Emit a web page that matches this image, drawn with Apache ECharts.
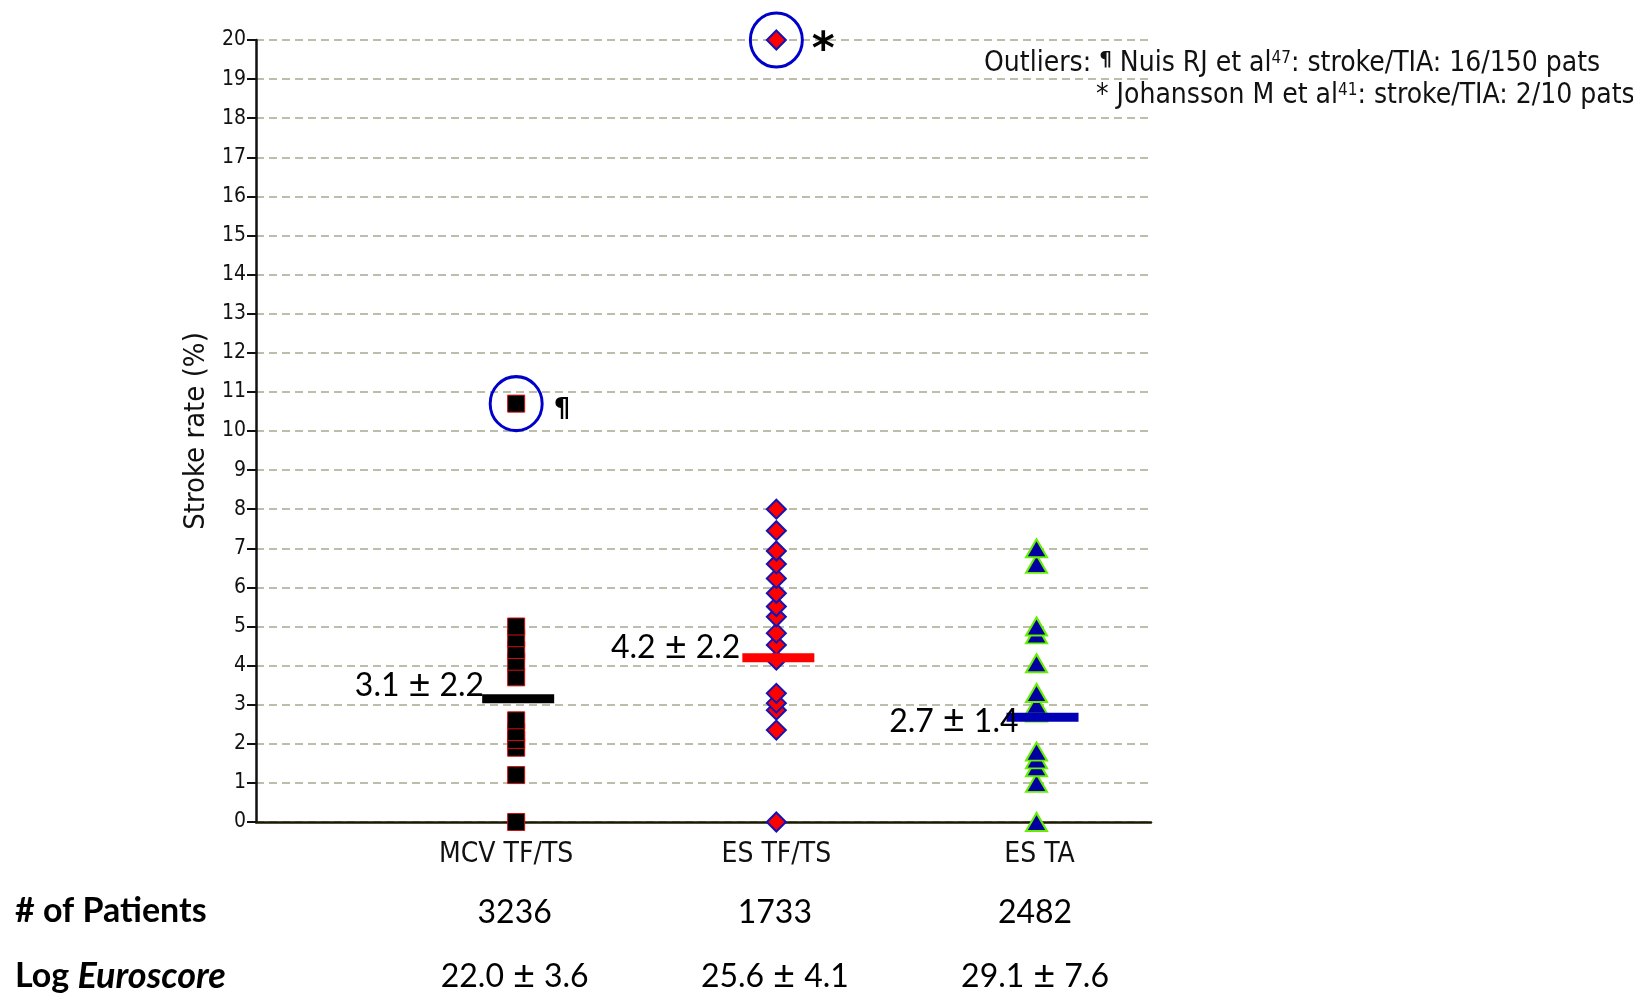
<!DOCTYPE html>
<html><head><meta charset="utf-8">
<script src="https://cdn.jsdelivr.net/npm/echarts@6/dist/echarts.min.js"></script>
<style>html,body{margin:0;padding:0;background:#fff}#c{width:1633px;height:995px}</style>
</head><body><div id="c"></div>
<script>
const categories = ['MCV TF/TS', 'ES TF/TS', 'ES TA'];
const mcvValues = [0, 1.2, 1.9, 2.1, 2.3, 2.6, 3.7, 4.1, 4.4, 4.7, 5.0, 10.7];
const esTfValues = [0, 2.35, 2.86, 3.04, 3.29, 4.14, 4.53, 4.83, 5.25, 5.51, 5.85, 6.23, 6.6, 6.93, 7.45, 8.0, 20];
const esTaValues = [0, 1.0, 1.4, 1.6, 1.8, 2.8, 3.0, 3.3, 4.06, 4.8, 5.0, 6.6, 7.0];
const meanValues = [3.15, 4.2, 2.68];
const meanLabels = ['3.1±2.2', '4.2±2.2', '2.7±1.4'];
const outlierPoints = [[1, 10.7], [2, 20]];
const outlierMarks = ['¶', '*'];
const patients = ['3236', '1733', '2482'];
const euroscore = ['22.0±3.6', '25.6±4.1', '29.1±7.6'];
const outlierNotes = ['Outliers: {pil|¶} Nuis RJ et al{sup|47}: stroke/TIA: 16/150 pats', '* Johansson M et al{sup|41}: stroke/TIA: 2/10 pats'];

const NARROW = '"Liberation Sans Narrow", "DejaVu Sans Condensed", "Arial Narrow", sans-serif';
const CAL = 'Lato, "Open Sans", sans-serif';

const meanColors = ['#000000', '#ff0000', '#0000b4'];
const meanLabelOffsets = [[2, -13], [-2, -10], [12, 4]];
const meanSymbolOffsets = [[2, 0], [2, 0], [6, 0]];
const catLabelPad = [[0, 20, 0, 0], [0, 0, 0, 0], [0, 0, 0, 6]];

const pmRich = { pm: { width: 40, align: 'center', fontSize: 38, fontFamily: CAL, color: '#000' } };

const chart = echarts.init(document.getElementById('c'));
chart.setOption({
  animation: false,
  backgroundColor: '#fff',
  grid: { left: 256, right: 482, top: 40, bottom: 173, containLabel: false },
  xAxis: {
    type: 'value', min: 0, max: 3.44, interval: 1,
    axisLine: { show: true, onZero: false, lineStyle: { color: '#1a1a00', width: 2.5 } },
    axisTick: { show: false }, splitLine: { show: false },
    axisLabel: { margin: 19, fontSize: 28, fontFamily: NARROW, color: '#111',
      formatter: v => (Number.isInteger(v) && categories[v - 1]) ? '{c' + (v - 1) + '|' + categories[v - 1] + '}' : '',
      rich: Object.fromEntries(catLabelPad.map((p, i) => ['c' + i, { padding: p, fontSize: 28, fontFamily: NARROW, color: '#111' }])) }
  },
  yAxis: {
    type: 'value', min: 0, max: 20, interval: 1,
    name: 'Stroke rate (%)', nameLocation: 'middle', nameGap: 38,
    nameTextStyle: { fontFamily: NARROW, fontSize: 29, color: '#111' },
    axisLine: { show: true, lineStyle: { color: '#111', width: 2.5 } },
    axisTick: { show: true, length: 9, lineStyle: { color: '#111', width: 2 } },
    axisLabel: { margin: 10, fontSize: 21, fontFamily: NARROW, color: '#111' },
    splitLine: { show: true, lineStyle: { type: [8, 5], color: '#a8a890', width: 1.5 } }
  },
  series: [
    { type: 'scatter', clip: false, symbol: 'rect', symbolSize: 17, z: 3,
      itemStyle: { color: '#000', borderColor: '#d01010', borderWidth: 1, opacity: 1 },
      data: mcvValues.map(v => [1, v]) },
    { type: 'scatter', clip: false, symbol: 'diamond', symbolSize: 19, z: 3,
      itemStyle: { color: '#ff0000', borderColor: '#1414b4', borderWidth: 2, opacity: 1 },
      data: esTfValues.map(v => [2, v]) },
    { type: 'scatter', clip: false, symbol: 'triangle', symbolSize: [21, 18], z: 3,
      itemStyle: { color: '#0000a0', borderColor: '#66ee00', borderWidth: 2, opacity: 1 },
      data: esTaValues.map(v => [3, v]) },
    { type: 'scatter', clip: false, symbol: 'rect', symbolSize: [72, 9], z: 5,
      data: meanValues.map((v, i) => ({
        value: [i + 1, v], symbolOffset: meanSymbolOffsets[i],
        itemStyle: { color: meanColors[i], opacity: 1 },
        label: { show: true, position: 'left', distance: 0, offset: meanLabelOffsets[i],
          formatter: meanLabels[i].replace('±', '{pm|±}'),
          fontSize: 32, fontFamily: CAL, color: '#000', rich: pmRich }
      })) },
    { type: 'scatter', clip: false, symbol: 'circle', symbolSize: [52, 54], z: 4,
      itemStyle: { color: 'rgba(0,0,0,0)', borderColor: '#0000cc', borderWidth: 3, opacity: 1 },
      data: outlierPoints.map((p, i) => ({
        value: p,
        label: { show: true, position: 'right', distance: i === 0 ? 10 : 8, offset: i === 0 ? [0, 7] : [0, 12],
          formatter: outlierMarks[i], fontSize: i === 0 ? 26 : 44, fontWeight: 'bold',
          fontFamily: '"DejaVu Sans", sans-serif', color: '#000' }
      })) }
  ]
});

const g = [];
outlierNotes.forEach((t, i) => {
  g.push({ type: 'text', left: i === 0 ? 984 : 1096, top: i === 0 ? 50 : 82,
    style: { text: t, fontFamily: NARROW, fontSize: 28, fill: '#111',
      rich: { sup: { fontSize: 17, verticalAlign: 'top', fontFamily: NARROW, fill: '#111' },
              pil: { fontSize: 20, fontWeight: 'bold', verticalAlign: 'top', fontFamily: '"DejaVu Sans", sans-serif', fill: '#111' } } } });
});
g.push({ type: 'text', left: 15, top: 894, style: { text: '# of Patients', fontFamily: CAL, fontSize: 34, fontWeight: 'bold', fill: '#000' } });
g.push({ type: 'text', left: 15, top: 958, style: { text: '{b|Log }{bi|Euroscore}', fontFamily: CAL, fontSize: 34, fill: '#000',
  rich: { b: { fontFamily: CAL, fontSize: 34, fontWeight: 'bold' }, bi: { fontFamily: CAL, fontSize: 36, fontWeight: 'bold', fontStyle: 'italic' } } } });
categories.forEach((c, i) => {
  const px = chart.convertToPixel({ gridIndex: 0 }, [i + 1, 0])[0] - 1.5;
  g.push({ type: 'text', x: px, y: 913, style: { text: patients[i], fontFamily: CAL, fontSize: 32, fill: '#000', align: 'center', verticalAlign: 'middle' } });
  g.push({ type: 'text', x: px, y: 977, style: { text: euroscore[i].replace('±', '{pm|±}'), fontFamily: CAL, fontSize: 32, fill: '#000', align: 'center', verticalAlign: 'middle', rich: pmRich } });
});
chart.setOption({ graphic: g });
</script></body></html>
